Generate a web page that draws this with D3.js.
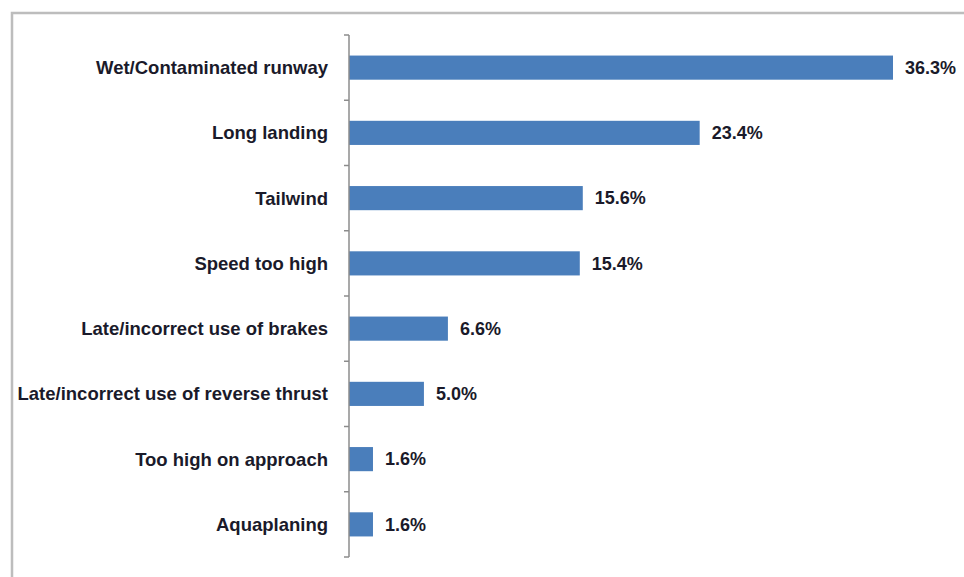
<!DOCTYPE html>
<html>
<head>
<meta charset="utf-8">
<script src="https://cdn.jsdelivr.net/npm/d3@7"></script>
<style>
  body { margin: 0; background: #fff; }
  svg { display: block; }
</style>
</head>
<body>
<svg class="chart"></svg>
<script>
/* data */
const categories = ['Wet/Contaminated runway', 'Long landing', 'Tailwind', 'Speed too high',
  'Late/incorrect use of brakes', 'Late/incorrect use of reverse thrust',
  'Too high on approach', 'Aquaplaning']
const values = [36.3, 23.4, 15.6, 15.4, 6.6, 5.0, 1.6, 1.6]
const valueLabels = ['36.3%', '23.4%', '15.6%', '15.4%', '6.6%', '5.0%', '1.6%', '1.6%']

const W = 964, H = 577
const svg = d3.select('.chart').attr('width', W).attr('height', H)

// outer frame, runs off the right and bottom
svg.append('rect')
  .attr('x', 12).attr('y', 13)
  .attr('width', 1000).attr('height', 700)
  .attr('fill', 'none')
  .attr('stroke', '#bdbdbd')
  .attr('stroke-width', 2.5)

const axisX = 349, plotTop = 35, plotBottom = 557

const x = d3.scaleLinear().domain([0, 36.3]).range([axisX, 893])
const y = d3.scaleBand().domain(categories).range([plotTop, plotBottom]).paddingInner(0.63).paddingOuter(0.315)
const yTicks = d3.scaleLinear().domain([0, categories.length]).range([plotTop, plotBottom])

// bars
svg.selectAll('rect.bar')
  .data(values).enter().append('rect')
  .attr('class', 'bar')
  .attr('x', axisX)
  .attr('y', (d, i) => y(categories[i]))
  .attr('width', d => x(d) - axisX)
  .attr('height', y.bandwidth())
  .attr('fill', '#4a7ebb')

// axis line with ticks between categories
svg.append('line')
  .attr('x1', axisX).attr('x2', axisX)
  .attr('y1', plotTop).attr('y2', plotBottom)
  .attr('stroke', '#8c8c8c').attr('stroke-width', 1.5)
svg.selectAll('line.tick')
  .data(d3.range(categories.length + 1)).enter().append('line')
  .attr('class', 'tick')
  .attr('x1', axisX - 5).attr('x2', axisX)
  .attr('y1', d => yTicks(d)).attr('y2', d => yTicks(d))
  .attr('stroke', '#8c8c8c').attr('stroke-width', 1.5)

// category labels
svg.selectAll('text.cat')
  .data(categories).enter().append('text')
  .attr('class', 'cat')
  .attr('x', 328)
  .attr('y', d => y(d) + y.bandwidth() / 2)
  .attr('dy', '0.35em')
  .attr('text-anchor', 'end')
  .attr('font-family', 'Liberation Sans, Arial, sans-serif')
  .attr('font-weight', 'bold')
  .attr('font-size', '18.5px')
  .attr('fill', '#1a1a2a')
  .text(d => d)

// value labels
svg.selectAll('text.val')
  .data(values).enter().append('text')
  .attr('class', 'val')
  .attr('x', d => x(d) + 12)
  .attr('y', (d, i) => y(categories[i]) + y.bandwidth() / 2)
  .attr('dy', '0.35em')
  .attr('font-family', 'Liberation Sans, Arial, sans-serif')
  .attr('font-weight', 'bold')
  .attr('font-size', '18px')
  .attr('fill', '#1a1a2a')
  .text((d, i) => valueLabels[i])
</script>
</body>
</html>
